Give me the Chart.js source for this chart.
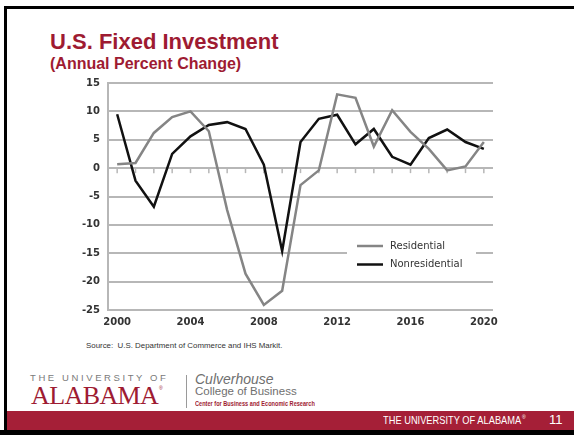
<!DOCTYPE html>
<html>
<head>
<meta charset="utf-8">
<script src="https://cdn.jsdelivr.net/npm/chart.js@4.4.1/dist/chart.umd.min.js"></script>
<style>
  html, body { margin: 0; padding: 0; background: #fff; }
  body { width: 574px; height: 435px; position: relative; overflow: hidden; font-family: "Liberation Sans", Arial, sans-serif; }
  .abs { position: absolute; white-space: nowrap; }
  #frame { left: 4px; top: 6px; width: 580px; height: 440px; border-left: 3px solid #000; border-top: 3px solid #000; }
  #bottomBlack { left: 0; top: 430px; width: 574px; height: 5px; background: #000; }
  #bar { left: 7px; top: 411px; width: 567px; height: 19px; background: #a51f37; }
  #title { left: 50px; top: 31px; font-size: 22px; line-height: 22px; font-weight: bold; color: #9e1b32; }
  #subtitle { left: 50px; top: 56px; font-size: 16px; line-height: 16px; font-weight: bold; color: #9e1b32; }
  #chartBox { left: 60px; top: 75px; width: 440px; height: 260px; }
  #source { left: 86px; top: 342px; font-size: 7.9px; line-height: 8px; color: #333; }
  #univ { left: 30px; top: 373px; font-size: 9.5px; line-height: 10px; letter-spacing: 2.6px; color: #7a7a7a; }
  #alabama { left: 31px; top: 383px; font-family: "Liberation Serif", serif; font-size: 26px; line-height: 26px; letter-spacing: -0.6px; color: #9e1b32; }
  #reg { left: 159px; top: 386px; font-size: 5px; line-height: 5px; color: #9e1b32; }
  #divider { left: 186px; top: 375px; width: 1px; height: 33px; background: #9a9a9a; }
  #culver { left: 195px; top: 372px; font-size: 14px; line-height: 14px; font-style: italic; color: #6f6f6f; }
  #college { left: 195px; top: 386px; font-size: 11.5px; line-height: 11px; color: #6f6f6f; }
  #center { left: 195px; top: 400px; font-size: 7px; line-height: 7px; font-weight: bold; color: #9e1b32; transform: scaleX(0.8); transform-origin: left top; }
  #barText { left: 383px; top: 415px; font-size: 10.5px; line-height: 11px; color: #fff; transform: scaleX(0.885); transform-origin: left top; }
  #barReg { left: 522px; top: 415px; font-size: 5px; line-height: 5px; color: #fff; }
  #pageNum { left: 549px; top: 413px; font-size: 13px; line-height: 14px; color: #fff; }
</style>
</head>
<body>
<div class="abs" id="frame"></div>
<div class="abs" id="bar"></div>
<div class="abs" id="bottomBlack"></div>
<div class="abs" id="title">U.S. Fixed Investment</div>
<div class="abs" id="subtitle">(Annual Percent Change)</div>
<div class="abs" id="chartBox"><canvas id="investChart" width="440" height="260"></canvas></div>
<div class="abs" id="source">Source:&nbsp; U.S. Department of Commerce and IHS Markit.</div>
<div class="abs" id="univ">THE UNIVERSITY OF</div>
<div class="abs" id="alabama">ALABAMA</div>
<div class="abs" id="reg">®</div>
<div class="abs" id="divider"></div>
<div class="abs" id="culver">Culverhouse</div>
<div class="abs" id="college">College of Business</div>
<div class="abs" id="center">Center for Business and Economic Research</div>
<div class="abs" id="barText">THE UNIVERSITY OF ALABAMA</div>
<div class="abs" id="barReg">®</div>
<div class="abs" id="pageNum">11</div>

<script>
// Données du graphique
const years = ['2000', '2001', '2002', '2003', '2004', '2005', '2006', '2007', '2008', '2009', '2010',
               '2011', '2012', '2013', '2014', '2015', '2016', '2017', '2018', '2019', '2020'];
const residential = [0.7, 0.9, 6.2, 9.0, 10.0, 6.5, -7.4, -18.6, -24.1, -21.6, -3.0,
                     -0.4, 13.0, 12.4, 3.8, 10.2, 6.4, 3.4, -0.4, 0.3, 4.6];
const nonresidential = [9.5, -2.2, -6.8, 2.5, 5.6, 7.6, 8.1, 6.9, 0.6, -14.6, 4.6,
                        8.7, 9.4, 4.2, 6.9, 2.0, 0.6, 5.3, 6.8, 4.6, 3.4];
const xTickLabels = ['2000', '2004', '2008', '2012', '2016', '2020'];
const yTicks = [15, 10, 5, 0, -5, -10, -15, -20, -25];
const seriesNames = ['Residential', 'Nonresidential'];

const gridColor = '#b7b7b7';
const tickFont = { family: 'DejaVu Sans', size: 10, weight: 'bold' };

// Petits traits sur la ligne zéro + légende dans le graphique
const zeroTicksAndLegend = {
    id: 'zeroTicksAndLegend',
    beforeDatasetsDraw(chart) {
        const ctx = chart.ctx, xs = chart.scales.x, ys = chart.scales.y;
        const y0 = ys.getPixelForValue(0);
        ctx.save();
        ctx.strokeStyle = gridColor;
        ctx.lineWidth = 1.5;
        years.forEach((_, i) => {
            const x = xs.getPixelForValue(i);
            ctx.beginPath();
            ctx.moveTo(x, y0);
            ctx.lineTo(x, y0 + 5);
            ctx.stroke();
        });
        ctx.restore();
    },
    afterDatasetsDraw(chart) {
        const ctx = chart.ctx;
        ctx.save();
        ctx.fillStyle = '#fff';
        ctx.fillRect(287, 162, 129, 36);
        chart.data.datasets.forEach((ds, i) => {
            const y = 171 + i * 18.5;
            ctx.strokeStyle = ds.borderColor;
            ctx.lineWidth = 2.5;
            ctx.beginPath();
            ctx.moveTo(297, y);
            ctx.lineTo(323, y);
            ctx.stroke();
            ctx.fillStyle = '#333';
            ctx.font = '10px "DejaVu Sans"';
            ctx.textBaseline = 'middle';
            ctx.fillText(ds.label, 330, y);
        });
        ctx.restore();
    }
};

const ctx = document.getElementById('investChart').getContext('2d');
new Chart(ctx, {
    type: 'line',
    data: {
        labels: years,
        datasets: [{
            label: seriesNames[0],
            data: residential,
            borderColor: '#858585',
            borderWidth: 2.5,
            pointRadius: 0,
            tension: 0
        }, {
            label: seriesNames[1],
            data: nonresidential,
            borderColor: '#111111',
            borderWidth: 2.5,
            pointRadius: 0,
            tension: 0
        }]
    },
    options: {
        responsive: false,
        animation: false,
        layout: { padding: { top: 8, right: 7, left: 0, bottom: 0 } },
        plugins: {
            legend: { display: false },
            tooltip: { enabled: false }
        },
        scales: {
            x: {
                offset: true,
                grid: { display: false, drawTicks: false },
                border: { display: false },
                ticks: {
                    autoSkip: false,
                    maxRotation: 0,
                    padding: 6,
                    color: '#333',
                    font: tickFont,
                    callback: (v, i) => xTickLabels.includes(years[i]) ? years[i] : ''
                },
                afterFit: s => { s.height = 25; s.paddingLeft = 0; s.paddingRight = 0; }
            },
            y: {
                min: Math.min(...yTicks),
                max: Math.max(...yTicks),
                grid: { color: gridColor, lineWidth: 2, drawTicks: false },
                border: { color: gridColor, width: 2 },
                ticks: {
                    stepSize: 5,
                    padding: 8,
                    color: '#333',
                    font: tickFont
                },
                afterFit: s => { s.width = 48; s.paddingTop = 0; s.paddingBottom = 0; }
            }
        }
    },
    plugins: [zeroTicksAndLegend]
});
</script>
</body>
</html>
